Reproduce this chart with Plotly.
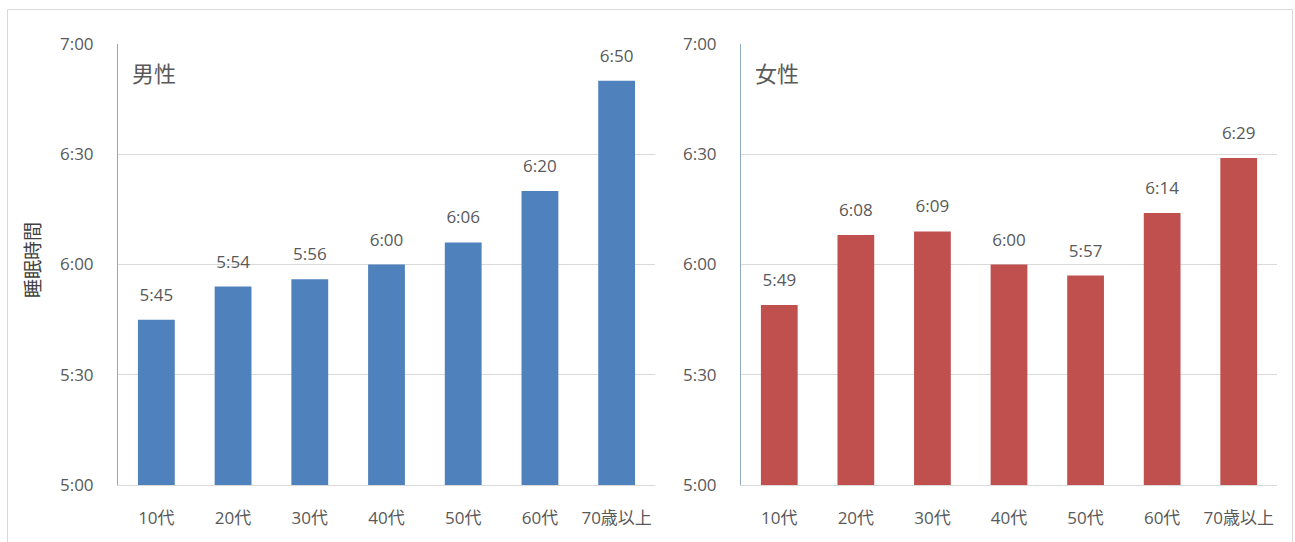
import plotly.graph_objects as go

# Age groups and average sleep time (h:mm)
categories = ["10代", "20代", "30代", "40代", "50代", "60代", "70歳以上"]
male_labels = ["5:45", "5:54", "5:56", "6:00", "6:06", "6:20", "6:50"]
female_labels = ["5:49", "6:08", "6:09", "6:00", "5:57", "6:14", "6:29"]
tick_values = [300, 330, 360, 390, 420]
tick_labels = ["5:00", "5:30", "6:00", "6:30", "7:00"]


def to_minutes(s):
    h, m = s.split(":")
    return int(h) * 60 + int(m)


male_minutes = [to_minutes(s) for s in male_labels]
female_minutes = [to_minutes(s) for s in female_labels]

FONT = "Open Sans, Noto Sans CJK JP, sans-serif"
TEXT_GRAY = "#595959"
W, H = 1295, 542


def px_x(x):
    return x / W


def px_y(y):
    return 1 - y / H


fig = go.Figure()

panels = [
    ("x", "y", male_minutes, male_labels, "#4F81BD"),
    ("x2", "y2", female_minutes, female_labels, "#C0504D"),
]
for xa, ya, vals, labels, color in panels:
    fig.add_trace(go.Bar(
        x=categories, y=vals,
        marker=dict(color=color, line=dict(width=0)),
        xaxis=xa, yaxis=ya, hoverinfo="skip",
    ))
    # value labels sitting above each bar
    fig.add_trace(go.Scatter(
        x=categories, y=vals, text=labels,
        mode="markers+text", textposition="top center",
        marker=dict(size=22, opacity=0),
        textfont=dict(size=17, color=TEXT_GRAY, family=FONT),
        cliponaxis=False, xaxis=xa, yaxis=ya, hoverinfo="skip",
    ))

ydom = [px_y(485), px_y(44)]
yaxis_common = dict(
    range=[300, 420], tickvals=tick_values, ticktext=tick_labels,
    showgrid=True, gridcolor="#D9D9D9", gridwidth=1,
    showline=True, linecolor="#8DA9C4", linewidth=1,
    ticks="", ticklabelstandoff=20, automargin=False,
    tickfont=dict(size=17, color=TEXT_GRAY, family=FONT),
    zeroline=False, domain=ydom, fixedrange=True,
)
xaxis_common = dict(
    range=[-0.5, len(categories) - 0.5],
    showline=True, linecolor="#D9D9D9", linewidth=1,
    ticks="", ticklabelstandoff=18, automargin=False,
    tickfont=dict(size=17, color=TEXT_GRAY, family=FONT),
    showgrid=False, fixedrange=True,
)

fig.update_layout(
    width=W, height=H,
    margin=dict(l=0, r=0, t=0, b=0, autoexpand=False),
    paper_bgcolor="white", plot_bgcolor="white",
    showlegend=False, bargap=0.52,
    font=dict(family=FONT, color=TEXT_GRAY),
    xaxis=dict(domain=[px_x(118), px_x(655)], anchor="y", **xaxis_common),
    yaxis=dict(anchor="x", **yaxis_common),
    xaxis2=dict(domain=[px_x(741), px_x(1277)], anchor="y2", **xaxis_common),
    yaxis2=dict(anchor="x2", **yaxis_common),
    shapes=[dict(
        type="rect", xref="paper", yref="paper",
        x0=px_x(7.5), x1=px_x(1292.5), y0=-0.05, y1=px_y(9.5),
        line=dict(color="#D9D9D9", width=1), fillcolor="rgba(0,0,0,0)",
        layer="below",
    )],
    annotations=[
        dict(text="男性", xref="paper", yref="paper",
             x=px_x(130), y=px_y(73), xanchor="left", yanchor="middle",
             showarrow=False, font=dict(size=22, color=TEXT_GRAY, family=FONT)),
        dict(text="女性", xref="paper", yref="paper",
             x=px_x(753), y=px_y(73), xanchor="left", yanchor="middle",
             showarrow=False, font=dict(size=22, color=TEXT_GRAY, family=FONT)),
        dict(text="睡眠時間", xref="paper", yref="paper",
             x=px_x(33), y=px_y(260), xanchor="center", yanchor="middle",
             textangle=-90, showarrow=False,
             font=dict(size=19, color="#404040", family=FONT)),
    ],
)

fig.write_html("out.html")
